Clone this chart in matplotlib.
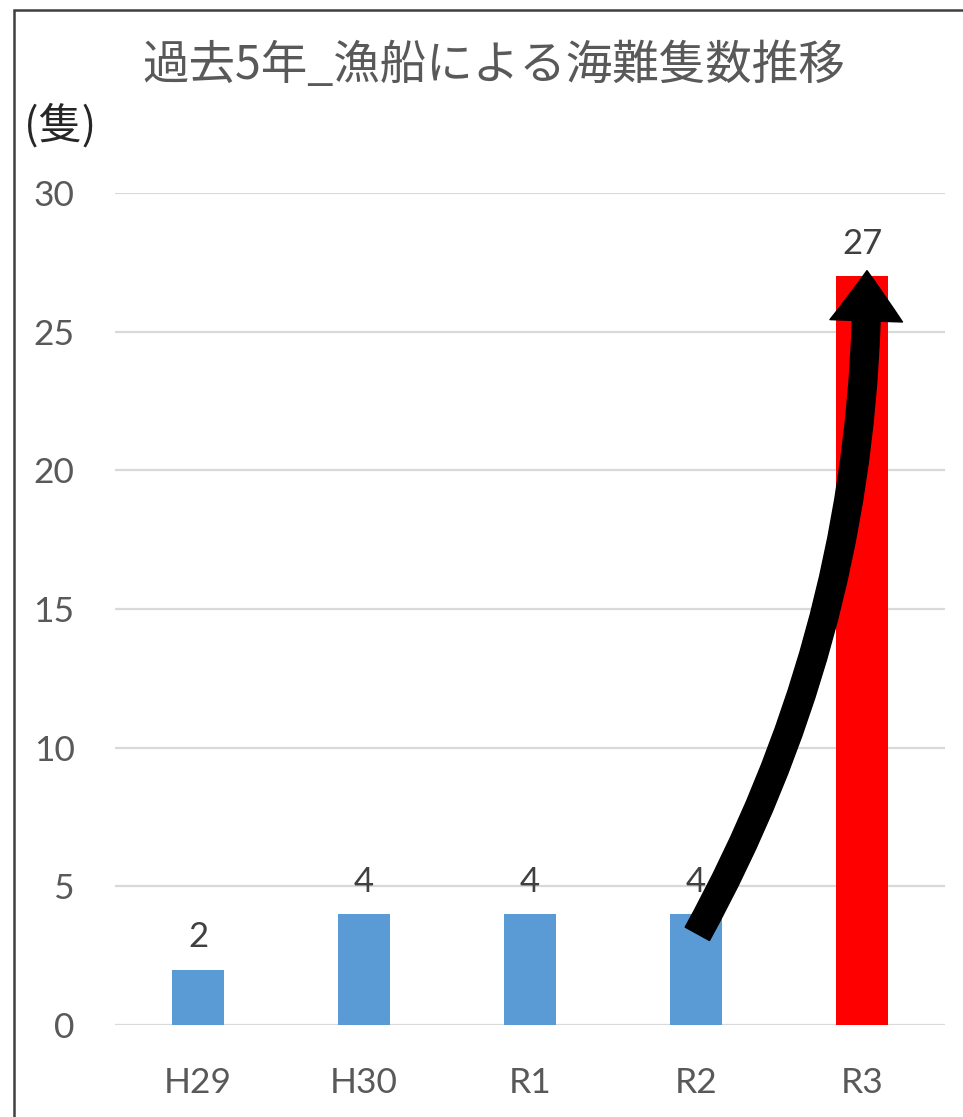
import matplotlib
matplotlib.use("Agg")
import matplotlib.pyplot as plt
from matplotlib.patches import FancyArrowPatch, Rectangle

categories = ["H29", "H30", "R1", "R2", "R3"]
values = [2, 4, 4, 4, 27]
colors = ["#5B9BD5", "#5B9BD5", "#5B9BD5", "#5B9BD5", "#FF0000"]
title = "過去5年_漁船による海難隻数推移"
unit_label = "(隻)"
yticks = [0, 5, 10, 15, 20, 25, 30]

W, H = 963, 1117
fig = plt.figure(figsize=(W / 100, H / 100), dpi=100)
fig.patch.set_facecolor("white")

num_font = ["Lato", "DejaVu Sans"]
jp_font = ["Noto Sans CJK JP", "DejaVu Sans"]

ax = fig.add_axes([115 / W, 1 - 1025 / H, (945 - 115) / W, (1025 - 193) / H])
ax.set_xlim(-0.5, len(categories) - 0.5)
ax.set_ylim(0, 30)

x = list(range(len(categories)))
ax.bar(x, values, width=0.315, color=colors, zorder=3)

for xi, v in zip(x, values):
    ax.annotate(str(v), (xi, v), xytext=(0, 16), textcoords="offset points",
                ha="center", va="baseline", fontsize=25, color="#404040",
                family=num_font, zorder=4)

ax.set_yticks(yticks)
ax.set_yticklabels([str(t) for t in yticks], family=num_font, fontsize=25.5, color="#595959")
ax.set_xticks(x)
ax.set_xticklabels(categories, family=num_font, fontsize=25.5, color="#595959")
ax.tick_params(axis="y", length=0, pad=29)
ax.tick_params(axis="x", length=0, pad=30)
for s in ax.spines.values():
    s.set_visible(False)
ax.grid(axis="y", color="#D9D9D9", linewidth=1.6, zorder=0)
ax.set_axisbelow(True)

# title and unit
fig.text(494 / W, 1 - 66 / H, title, ha="center", va="center", fontsize=33.5,
         color="#595959", family=jp_font)
fig.text(24 / W, 1 - 126 / H, unit_label, ha="left", va="center", fontsize=31,
         color="#262626", family=jp_font)

# curved arrow from R2 to R3
arrow = FancyArrowPatch((3.0, values[3] * 0.8), (4.03, values[4] + 0.3),
                        connectionstyle="arc3,rad=0.13",
                        arrowstyle="simple,head_width=2.75,head_length=1.9,tail_width=1.05",
                        mutation_scale=19, color="black", zorder=10)
ax.add_patch(arrow)

# chart-area border (cut on right/bottom)
fig.add_artist(Rectangle((14 / W, -0.05), 1.2, 1 - 10 / H + 0.05, transform=fig.transFigure,
                         fill=False, edgecolor="#404040", linewidth=1.8))

fig.savefig("out.png", dpi=100, facecolor="white")
